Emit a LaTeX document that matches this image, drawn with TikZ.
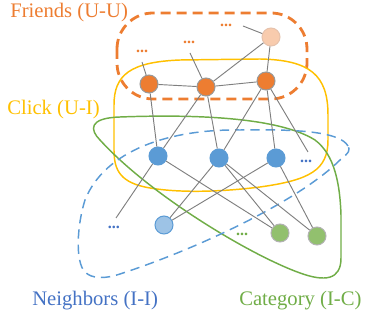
\documentclass[tikz,border=0pt]{standalone}
\usepackage{fontspec}
\setmainfont{Liberation Serif}
\definecolor{cOrange}{HTML}{ED7D31}
\definecolor{cPeach}{HTML}{F8CBAD}
\definecolor{cPeachD}{HTML}{E6C2AC}
\definecolor{cYellow}{HTML}{FFC000}
\definecolor{cBlue}{HTML}{5B9BD5}
\definecolor{cBlueT}{HTML}{4472C4}
\definecolor{cLBlue}{HTML}{9DC3E6}
\definecolor{cGreen}{HTML}{70AD47}
\definecolor{cGNode}{RGB}{146,192,110}
\definecolor{cEdge}{HTML}{7F7F7F}
\begin{document}
\begin{tikzpicture}[x=0.75pt,y=-0.75pt,
  vtx/.style={circle,minimum size=13.5pt,inner sep=0pt,line width=0.75pt},
  unode/.style={vtx,fill=cOrange,draw=cEdge!80},
  pnode/.style={vtx,fill=cPeach,draw=cPeachD},
  inode/.style={vtx,fill=cBlue,draw=cBlue},
  lnode/.style={vtx,fill=cLBlue,draw=cBlue},
  cnode/.style={vtx,fill=cGNode,draw=cEdge!60},
  edge/.style={draw=cEdge,line width=0.7pt},
  dots/.style={inner sep=0pt,font=\fontsize{12}{12}\selectfont\bfseries},
  lbl/.style={anchor=base west,inner sep=0pt,font=\fontsize{15.5}{18}\selectfont}
]
\useasboundingbox (0,0) rectangle (365,320);

% groups
\draw[cOrange,line width=2.1pt,dash pattern=on 7.5pt off 4.5pt,rounded corners=27pt]
  (117,13) rectangle (307,99);
\draw[cYellow,line width=1.1pt]
  (114,130) -- (114,105) .. controls (114,75) and (130,62) .. (180,60)
  -- (260,59) .. controls (310,60) and (328,75) .. (328,115)
  -- (328,140) .. controls (328,170) and (310,180) .. (260,187)
  .. controls (220,192) and (180,193) .. (150,188)
  .. controls (120,183) and (114,170) .. (114,150) -- cycle;
\draw[cGreen,line width=1.1pt]
  (100,140) .. controls (90,130) and (88,118) .. (120,117)
  .. controls (200,114) and (280,118) .. (315,140)
  .. controls (335,155) and (340,185) .. (341,215)
  -- (341,258) .. controls (341,280) and (325,282) .. (300,273)
  .. controls (250,255) and (150,195) .. (100,140) -- cycle;
\draw[cBlue,line width=1.1pt,dash pattern=on 7pt off 4.5pt]
  (348,146) .. controls (340,132) and (300,129) .. (240,130)
  .. controls (170,129) and (105,150) .. (85,200)
  .. controls (77,225) and (75,262) .. (85,272)
  .. controls (92,279) and (105,279) .. (120,274)
  .. controls (200,248) and (300,200) .. (340,160)
  .. controls (350,152) and (350,150) .. (348,146) -- cycle;

% free ends
\coordinate (fe1) at (243,26);
\coordinate (fe2) at (142,62);
\coordinate (fe3) at (190,53);
\coordinate (fe4) at (308,152);
\coordinate (fe5) at (116,218);

% nodes
\node[pnode] (p)  at (271,37) {};
\node[unode] (o1) at (149,84) {};
\node[unode] (o2) at (206,87) {};
\node[unode] (o3) at (266,81) {};
\node[inode] (b1) at (158,156) {};
\node[inode] (b2) at (219,158) {};
\node[inode] (b3) at (276,158) {};
\node[lnode] (lb) at (164,225) {};
\node[cnode] (g1) at (280,233) {};
\node[cnode] (g2) at (317,236) {};

% edges
\draw[edge] (p) -- (fe1);
\draw[edge] (p) -- (o2);
\draw[edge] (p) -- (o3);
\draw[edge] (o1) -- (fe2);
\draw[edge] (o2) -- (fe3);
\draw[edge] (o1) -- (o2);
\draw[edge] (o2) -- (o3);
\draw[edge] (o1) -- (b1);
\draw[edge] (o2) -- (b1);
\draw[edge] (o2) -- (b2);
\draw[edge] (o3) -- (b2);
\draw[edge] (o3) -- (b3);
\draw[edge] (o3) -- (fe4);
\draw[edge] (b1) -- (fe5);
\draw[edge] (b1) -- (g1);
\draw[edge] (b2) -- (lb);
\draw[edge] (b2) -- (g1);
\draw[edge] (b2) -- (g2);
\draw[edge] (b3) -- (lb);
\draw[edge] (b3) -- (g2);

% dots
\node[dots,text=cOrange] (d1) at (142,51) {...};
\node[dots,text=cOrange] (d2) at (189,42) {...};
\node[dots,text=cOrange] (d3) at (226,25) {...};
\node[dots,text=cBlueT] (d4) at (306,161) {...};
\node[dots,text=cBlueT] (d5) at (114,227) {...};
\node[dots,text=cGreen] (d6) at (242,234) {...};

% labels
\node[lbl,text=cOrange] (lf) at (10,17.5) {Friends (U-U)};
\node[lbl,text=cYellow] (lc) at (7,115) {Click (U-I)};
\node[lbl,text=cBlueT] (ln) at (32,306) {Neighbors (I-I)};
\node[lbl,text=cGreen] (lg) at (239,306) {Category (I-C)};
\end{tikzpicture}
\end{document}
